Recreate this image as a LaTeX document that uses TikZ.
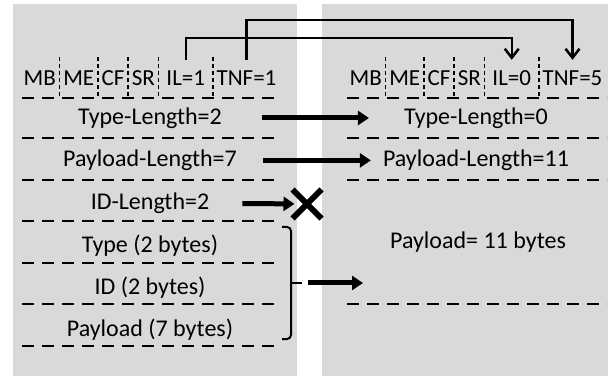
\documentclass[tikz,border=0pt]{standalone}
\usepackage{fontspec}
\setmainfont{Carlito}
\usetikzlibrary{positioning, arrows.meta, shapes.misc}
\definecolor{panelgray}{RGB}{217,217,217}
\tikzstyle{cell} = [anchor=west, inner xsep=3.5pt, inner ysep=0pt, minimum height=36pt, font=\fontsize{23}{27}\selectfont]
\tikzstyle{widecell} = [cell, minimum width=54pt]
\tikzstyle{row} = [inner sep=0pt, font=\fontsize{24}{28}\selectfont]
\tikzstyle{dashline} = [line width=2pt, dash pattern=on 12pt off 8pt]
\tikzstyle{sepline} = [line width=1.3pt, dash pattern=on 4pt off 3pt]
\tikzstyle{linkarrow} = [line width=2.5pt, -{Straight Barb[length=9pt,width=14pt]}]
\tikzstyle{bigarrow} = [line width=5pt, -{Triangle[length=11pt,width=14pt]}]
\tikzstyle{xmark} = [cross out, draw, line width=6pt, minimum size=23pt, inner sep=0pt]
\tikzstyle{bracket} = [line width=2pt, rounded corners=4pt]

\begin{document}
\begin{tikzpicture}[x=1pt, y=-1pt, node distance=42.4pt]
    \useasboundingbox (0,0) rectangle (613,379);
    %两个灰色区域
    \fill[panelgray] (13,4) rectangle (297,376);
    \fill[panelgray] (322,4) rectangle (608,376);

    %左侧头部
    \node (mbL) [cell] at (20,78) {MB};
    \node (meL) [cell, right=0pt of mbL] {ME};
    \node (cfL) [cell, right=0pt of meL] {CF};
    \node (srL) [cell, right=0pt of cfL] {SR};
    \node (ilL) [widecell, right=0pt of srL] {IL=1};
    \node (tnfL) [cell, right=0pt of ilL] {TNF=1};

    %右侧头部
    \node (mbR) [cell] at (346,78) {MB};
    \node (meR) [cell, right=0pt of mbR] {ME};
    \node (cfR) [cell, right=0pt of meR] {CF};
    \node (srR) [cell, right=0pt of cfR] {SR};
    \node (ilR) [widecell, right=0pt of srR] {IL=0};
    \node (tnfR) [cell, right=0pt of ilR] {TNF=5};

    \foreach \c in {mbL,meL,cfL,srL,ilL,mbR,meR,cfR,srR,ilR}
        \draw[sepline] (\c.north east) ++(0,-3) -- (\c.east |- 0,98);

    %左侧各字段
    \node (tl2) [row] at (150,118) {Type-Length=2};
    \node (pl7) [row, below of=tl2] {Payload-Length=7};
    \node (idl) [row, below of=pl7] {ID-Length=2};
    \node (type) [row, below of=idl] {Type (2 bytes)};
    \node (id) [row, below of=type] {ID (2 bytes)};
    \node (pay) [row, below of=id] {Payload (7 bytes)};

    %右侧各字段
    \node (tl0) [row] at (476,118) {Type-Length=0};
    \node (pl11) [row, below of=tl0] {Payload-Length=11};
    \node (pay11) [row] at (478,242) {Payload= 11 bytes};

    \foreach \y in {98,138,180,221,263,304,346}
        \draw[dashline] (22,\y) -- (278,\y);
    \foreach \y in {98,138,180,304}
        \draw[dashline] (347,\y) -- (607,\y);

    %连接
    \draw[linkarrow] (ilL.north) -- (ilL.north |- 0,38) -| (ilR.north);
    \draw[linkarrow] (tnfL.north) -- (tnfL.north |- 0,20) -| (tnfR.north);

    \draw[bigarrow, shorten <=40pt, shorten >=35pt] (tl2) -- (tl0);
    \draw[bigarrow, shorten <=26pt, shorten >=12pt] (pl7) -- (pl11);

    \node (cross) [xmark] at (307,204) {};
    \draw[bigarrow, shorten <=33pt, shorten >=-2pt] (idl) -- (cross);

    \draw[bracket] (282,227) -| (291,339) -- (282,339);
    \coordinate (bracetip) at (302,283);
    \draw[line width=2pt] (291,283) -- (bracetip);
    \coordinate (payin) at (363,283);
    \draw[bigarrow, shorten <=6pt] (bracetip) -- (payin);
\end{tikzpicture}
\end{document}
